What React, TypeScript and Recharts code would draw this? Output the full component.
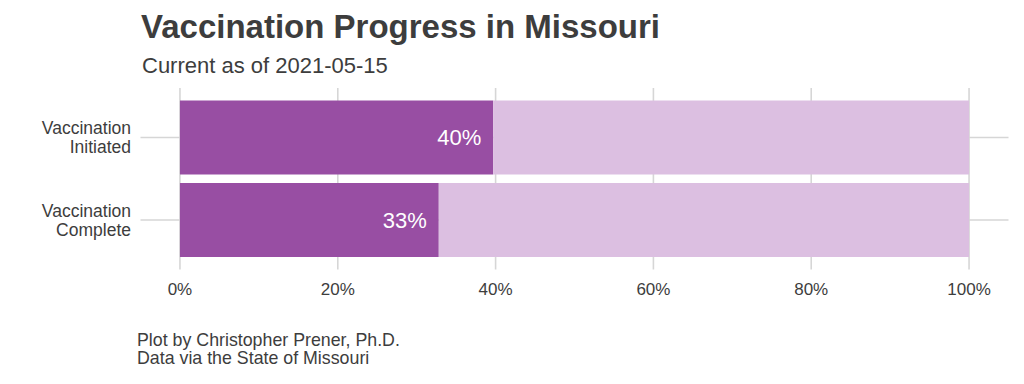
import { Bar, BarChart, CartesianGrid, LabelList, XAxis, YAxis } from "recharts";

const CATEGORIES = ["Vaccination Initiated", "Vaccination Complete"];
const PERCENT_DONE = [39.7, 32.8];
const X_TICKS = [0, 20, 40, 60, 80, 100];

const TEXT = "#3d3d3d";
const FONT = "'Liberation Sans', Arial, Helvetica, sans-serif";

const rows = CATEGORIES.map((name, i) => ({
  name,
  done: PERCENT_DONE[i],
  rest: 100 - PERCENT_DONE[i],
}));

function CategoryTick(props: any) {
  const { x, y, payload } = props;
  const words = String(payload.value).split(" ");
  return (
    <text x={x} y={y} textAnchor="end" fill={TEXT} fontSize={17.5} fontFamily={FONT}>
      {words.map((w, i) => (
        <tspan key={i} x={x} dy={i === 0 ? -3.5 : 19}>
          {w}
        </tspan>
      ))}
    </text>
  );
}

export default function App() {
  return (
    <div style={{ position: "absolute", left: 0, top: 0, width: 1024, height: 384, background: "#fff", fontFamily: FONT, color: TEXT }}>
      <div style={{ position: "absolute", left: 141, top: 8, fontSize: 33, fontWeight: 700, lineHeight: "38px", whiteSpace: "nowrap" }}>
        Vaccination Progress in Missouri
      </div>
      <div style={{ position: "absolute", left: 142, top: 53, fontSize: 22, lineHeight: "26px", whiteSpace: "nowrap" }}>
        Current as of 2021-05-15
      </div>
      <BarChart
        width={1024}
        height={384}
        data={rows}
        layout="vertical"
        margin={{ top: 88, right: 15.5, bottom: 0, left: 0 }}
        barCategoryGap="5%"
      >
        <CartesianGrid stroke="#d6d6d6" strokeWidth={1.6} syncWithTicks />
        <XAxis
          type="number"
          domain={[-5, 105]}
          ticks={X_TICKS}
          tickFormatter={(v: number) => `${v}%`}
          axisLine={false}
          tickLine={false}
          tickMargin={7}
          height={114.5}
          tick={{ fill: TEXT, fontSize: 17, fontFamily: FONT }}
        />
        <YAxis
          type="category"
          dataKey="name"
          width={140.5}
          axisLine={false}
          tickLine={false}
          tickMargin={3.5}
          padding={{ top: 8.25, bottom: 8.25 }}
          tick={<CategoryTick />}
        />
        <Bar dataKey="done" stackId="a" fill="#984ea3" isAnimationActive={false}>
          <LabelList
            dataKey="done"
            position="insideRight"
            offset={12}
            fill="#ffffff"
            fontSize={22}
            fontFamily={FONT}
            formatter={(v: any) => `${Math.round(Number(v))}%`}
          />
        </Bar>
        <Bar dataKey="rest" stackId="a" fill="#dcbfe1" isAnimationActive={false} />
      </BarChart>
      <div style={{ position: "absolute", left: 137, top: 331, fontSize: 17.8, lineHeight: "18px", whiteSpace: "nowrap" }}>
        Plot by Christopher Prener, Ph.D.
        <br />
        Data via the State of Missouri
      </div>
    </div>
  );
}
